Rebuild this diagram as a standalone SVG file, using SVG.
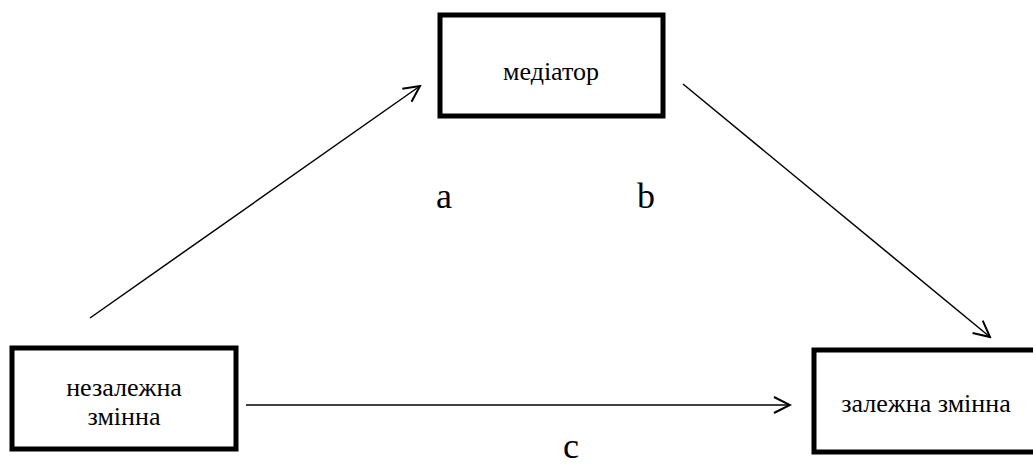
<svg xmlns="http://www.w3.org/2000/svg" width="1033" height="467" viewBox="0 0 1033 467">
  <style>
    .box { fill: #fff; stroke: #000; stroke-width: 5; }
    text { font-family: 'Liberation Serif', 'DejaVu Serif', serif; fill: #000; text-anchor: middle; }
    .lbl { font-size: 26px; }
    .path-lbl { font-size: 36px; }
    .edge { stroke: #000; stroke-width: 1.5; fill: none; marker-end: url(#open); }
  </style>
  <defs>
    <!-- open chevron arrowhead shared by all connectors -->
    <marker id="open" viewBox="0 0 20 20" refX="18" refY="10" markerWidth="20" markerHeight="20" markerUnits="userSpaceOnUse" orient="auto">
      <path d="M2,2 L18,10 L2,18" fill="none" stroke="#000" stroke-width="2"/>
    </marker>
  </defs>
  <rect width="1033" height="467" fill="#fff"/>

  <g id="connectors">
    <line class="edge" x1="90" y1="318" x2="420" y2="86"/>
    <line class="edge" x1="683" y1="84" x2="990" y2="337"/>
    <line class="edge" x1="246" y1="405" x2="790" y2="405"/>
  </g>

  <g id="mediator">
    <rect class="box" x="440" y="15" width="223" height="101"/>
    <text class="lbl" x="551" y="80">медіатор</text>
  </g>

  <g id="independent">
    <rect class="box" x="12" y="348" width="224" height="101"/>
    <text class="lbl" x="124" y="396">незалежна</text>
    <text class="lbl" x="124" y="425">змінна</text>
  </g>

  <g id="dependent">
    <rect class="box" x="814" y="350" width="230" height="102"/>
    <text class="lbl" x="926" y="412">залежна змінна</text>
  </g>

  <g id="path-labels">
    <text class="path-lbl" x="444" y="208">a</text>
    <text class="path-lbl" x="646" y="208">b</text>
    <text class="path-lbl" x="571" y="458">c</text>
  </g>
</svg>
